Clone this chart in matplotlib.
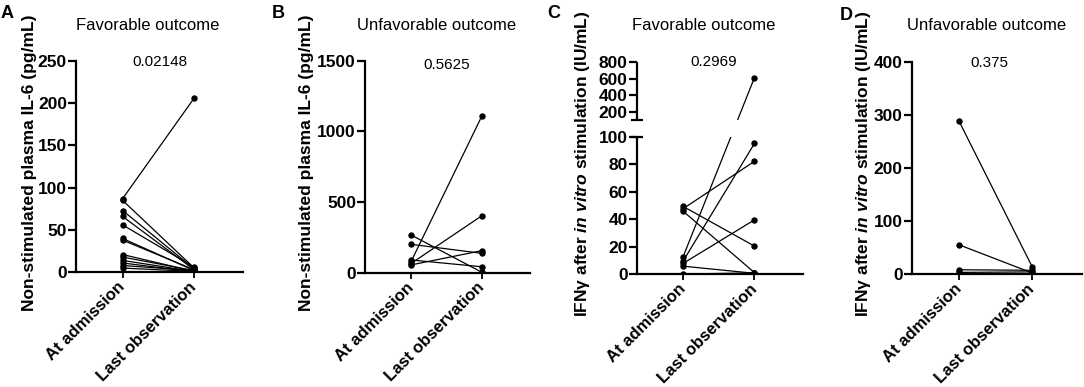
import numpy as np
import matplotlib
matplotlib.use("Agg")
import matplotlib.pyplot as plt

plt.rcParams["font.family"] = ["Liberation Sans", "DejaVu Sans"]
plt.rcParams["mathtext.fontset"] = "custom"
plt.rcParams["mathtext.rm"] = "Liberation Sans:bold"
plt.rcParams["mathtext.it"] = "Liberation Sans:italic:bold"
plt.rcParams["mathtext.bf"] = "Liberation Sans:bold"

groups = ["At admission", "Last observation"]

# A: IL-6, favorable outcome (pg/mL)
il6_fav_adm = [87, 85, 73, 66, 56, 40, 38, 21, 18, 14, 11, 8, 5]
il6_fav_last = [206, 5, 4, 3, 6, 2, 3, 1, 2, 1, 0.5, 2, 1]
# B: IL-6, unfavorable outcome
il6_unf_adm = [267, 201, 90, 78, 65, 55]
il6_unf_last = [3, 137, 42, 1108, 403, 156]
# C: IFNg, favorable outcome (IU/mL)
ifn_fav_adm = [47.5, 49.2, 45.7, 12.5, 9.4, 7.7, 5.7, 0]
ifn_fav_last = [82, 20.3, 1, 612, 95, 39.4, 0.5, 0.8]
# D: IFNg, unfavorable outcome
ifn_unf_adm = [288, 55, 8, 3]
ifn_unf_last = [14, 2, 7, 4]

p_values = ["0.02148", "0.5625", "0.2969", "0.375"]
titles = ["Favorable outcome", "Unfavorable outcome", "Favorable outcome", "Unfavorable outcome"]
letters = ["A", "B", "C", "D"]
il6_label = "Non-stimulated plasma IL-6 (pg/mL)"
ifn_label = "IFNγ after $\\mathit{in\\ vitro}$ stimulation (IU/mL)"

W, H = 1084, 387


def px(x, y):
    return x / W, 1 - y / H


# broken axis for panel C: 0-100 linear, gap, then 100-800 compressed
BRK, GAP, K = 100.0, 12.0, 0.0604


def fwd(v):
    v = np.asarray(v, dtype=float)
    return np.where(v <= BRK, v, BRK + GAP + (v - BRK) * K)


def inv(y):
    y = np.asarray(y, dtype=float)
    return np.where(y <= BRK, y, np.where(y < BRK + GAP, BRK, BRK + (y - BRK - GAP) / K))


def pair_plot(ax, before, after):
    for a, b in zip(before, after):
        ax.plot([0, 1], [a, b], color="black", lw=0.9, marker="o", ms=3.6,
                solid_capstyle="round", zorder=2)
    ax.set_xlim(-0.65, 1.68)
    ax.set_xticks([0, 1])
    ax.set_xticklabels(groups, rotation=45, ha="right", va="center",
                       rotation_mode="anchor", fontsize=12, fontweight="bold")
    ax.spines["top"].set_visible(False)
    ax.spines["right"].set_visible(False)
    for s in ["left", "bottom"]:
        ax.spines[s].set_linewidth(1.6)
    ax.tick_params(axis="y", length=5.5, width=1.6, pad=1, labelsize=12.5)
    ax.tick_params(axis="x", length=4, width=1.3, pad=5)


def set_yticks_bold(ax, ticks):
    ax.set_yticks(ticks)
    ax.set_yticklabels([str(t) for t in ticks], fontweight="bold", fontsize=12.5)


fig = plt.figure(figsize=(W / 100, H / 100), dpi=100)

boxes = [(76, 243, 60.7, 272.3), (365, 530, 60.7, 272.7),
         (636.7, 803, 62, 274), (911.7, 1081.7, 62, 274)]
axs = []
for x0, x1, y0, y1 in boxes:
    axs.append(fig.add_axes([x0 / W, 1 - y1 / H, (x1 - x0) / W, (y1 - y0) / H]))

# A
ax = axs[0]
pair_plot(ax, il6_fav_adm, il6_fav_last)
ax.set_ylim(0, 250)
set_yticks_bold(ax, list(range(0, 251, 50)))

# B
ax = axs[1]
pair_plot(ax, il6_unf_adm, il6_unf_last)
ax.set_ylim(0, 1500)
set_yticks_bold(ax, [0, 500, 1000, 1500])

# C (broken y axis)
ax = axs[2]
ax.set_yscale("function", functions=(fwd, inv))
pair_plot(ax, ifn_fav_adm, ifn_fav_last)
ax.set_ylim(0, 800)
set_yticks_bold(ax, [0, 20, 40, 60, 80, 100, 200, 400, 600, 800])
ax.spines["left"].set_visible(False)
ytr = ax.get_yaxis_transform()
ax.axhspan(BRK, BRK + 1e-4, color="white", lw=0, zorder=2.6)
ax.plot([0, 0], [0, BRK], transform=ytr, color="black", lw=1.6,
        clip_on=False, solid_capstyle="butt", zorder=3)
ax.plot([0, 0], [BRK + 1e-4, 800], transform=ytr, color="black", lw=1.6,
        clip_on=False, solid_capstyle="butt", zorder=3)
ax.plot([0, 0], [BRK, BRK + 1e-4], transform=ytr, ls="none", marker="_",
        ms=8, mew=1.6, color="black", clip_on=False, zorder=3)

# D
ax = axs[3]
pair_plot(ax, ifn_unf_adm, ifn_unf_last)
ax.set_ylim(0, 400)
set_yticks_bold(ax, list(range(0, 401, 100)))

# labels
ylabels = [il6_label, il6_label, ifn_label, ifn_label]
label_x = [-0.234, -0.31, -0.27, -0.228]
for ax, lab, lx in zip(axs, ylabels, label_x):
    ax.set_ylabel(lab, fontsize=12.5, fontweight="bold")
    ax.yaxis.set_label_coords(lx, 0.52)

title_pos = [148, 437, 704, 987]
p_pos = [(159.7, 61.7), (446.7, 65), (714, 62), (989, 63)]
letter_pos = [(7.5, 13), (278, 13), (554, 13), (846, 15)]
for i in range(4):
    fig.text(*px(title_pos[i], 25), titles[i], ha="center", va="center", fontsize=12)
    fig.text(*px(*p_pos[i]), p_values[i], ha="center", va="center", fontsize=11)
    fig.text(*px(*letter_pos[i]), letters[i], ha="center", va="center",
             fontsize=13, fontweight="bold")

plt.savefig("out.png", dpi=100)
